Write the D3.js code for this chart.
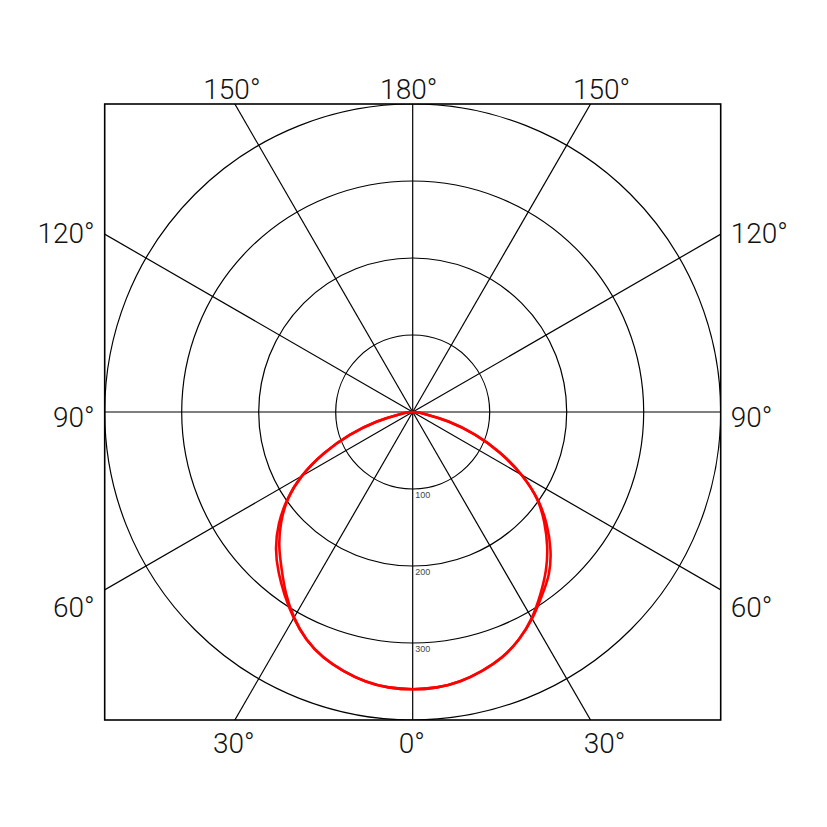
<!DOCTYPE html>
<html>
<head>
<meta charset="utf-8">
<script src="https://cdn.jsdelivr.net/npm/d3@7"></script>
<style>
  html, body { margin: 0; padding: 0; background: #fff; }
  svg { display: block; }
</style>
</head>
<body>
<svg id="chart" width="827" height="827"></svg>
<script>
// ---- data ----
const angles = [0, 5, 10, 15, 20, 25, 30, 35, 40, 45, 50, 55, 60, 65, 70, 75, 80, 85, 90];
const c180 = [360, 359, 355, 348, 339, 326, 309, 290, 271, 251, 227, 199, 166, 127, 87, 48, 18, 5, 0]; // left, outer
const c270 = [360, 359, 355, 348, 339, 326, 308, 287, 265, 245, 223, 198, 166, 127, 87, 48, 18, 5, 0]; // left, inner
const c0   = [360, 359, 355, 348, 339, 326, 310, 292, 275, 253, 227, 198, 163, 125, 86, 48, 18, 5, 0];  // right, outer
const c90  = [360, 359, 355, 348, 339, 326, 309, 289, 269, 247, 223, 197, 163, 125, 86, 48, 18, 5, 0];  // right, inner
const ringValues = [100, 200, 300, 400];
const ringLabels = ["100", "200", "300"];
const spokeAngles = [0, 30, 60, 90, 120, 150, 180, 210, 240, 270, 300, 330];
const topLabels = ["150°", "180°", "150°"];
const bottomLabels = ["30°", "0°", "30°"];
const sideLabels = ["120°", "90°", "60°"];
const sideAngles = [120, 90, 60];

// ---- layout ----
const cx = 412.7, cy = 412, R = 308;
const box = { x0: cx - R, x1: cx + R, y0: cy - R, y1: cy + R };
const r = d3.scaleLinear().domain([0, 400]).range([0, R]);
const toRad = d => d * Math.PI / 180;

const svg = d3.select("#chart");
svg.append("defs").append("clipPath").attr("id", "boxclip")
  .append("rect").attr("x", box.x0).attr("y", box.y0)
  .attr("width", box.x1 - box.x0).attr("height", box.y1 - box.y0);

const grid = svg.append("g").attr("clip-path", "url(#boxclip)");

// rings
grid.selectAll("circle.ring").data(ringValues).enter().append("circle")
  .attr("class", "ring")
  .attr("cx", cx).attr("cy", cy).attr("r", d => r(d))
  .attr("fill", "none").attr("stroke", "#000").attr("stroke-width", 1.2);

// spokes (angle measured from nadir)
const L = R * 2;
grid.selectAll("line.spoke").data(spokeAngles).enter().append("line")
  .attr("class", "spoke")
  .attr("x1", cx).attr("y1", cy)
  .attr("x2", d => cx + L * Math.sin(toRad(d)))
  .attr("y2", d => cy + L * Math.cos(toRad(d)))
  .attr("stroke", "#000").attr("stroke-width", 1.2);

// ring labels
svg.selectAll("text.rl").data(ringLabels).enter().append("text")
  .attr("class", "rl")
  .attr("x", cx + 2.5).attr("y", d => cy + r(+d) + 9)
  .attr("font-family", "Liberation Sans, Arial, sans-serif")
  .attr("font-size", 9).attr("fill", "#444")
  .text(d => d);

// curves: left side from 90° to 0° then right side 0° to 90°
function loop(left, right) {
  const pts = [];
  for (let i = angles.length - 1; i >= 0; i--) pts.push([Math.PI + toRad(angles[i]), r(left[i])]);
  for (let i = 1; i < angles.length; i++) pts.push([Math.PI - toRad(angles[i]), r(right[i])]);
  return pts;
}
const radial = d3.lineRadial().angle(d => d[0]).radius(d => d[1]).curve(d3.curveNatural);
const curves = svg.append("g").attr("transform", `translate(${cx},${cy})`);
[loop(c180, c0), loop(c270, c90)].forEach(pts => {
  curves.append("path").attr("d", radial(pts))
    .attr("fill", "none").attr("stroke", "#ff0000").attr("stroke-width", 2.6)
    .attr("stroke-linejoin", "round");
});

// frame
svg.append("rect").attr("x", box.x0).attr("y", box.y0)
  .attr("width", box.x1 - box.x0).attr("height", box.y1 - box.y0)
  .attr("fill", "none").attr("stroke", "#000").attr("stroke-width", 1.6);

// angle labels
const font = "Roboto, 'Open Sans', sans-serif";
const tanAt = d => Math.tan(toRad(d));
const topX = [cx - R * tanAt(30), cx, cx + R * tanAt(30)];
const topDx = [-3, -4, 11];
const botDx = [-1, -1, 14];
const sideDy = [9, 15, 27];
function lbl(x, y, t, anchor) {
  svg.append("text").attr("x", x).attr("y", y).attr("text-anchor", anchor)
    .attr("font-family", font).attr("font-weight", 300).attr("font-size", 28)
    .attr("fill", "#111").text(t);
}
topLabels.forEach((t, i) => lbl(topX[i] + topDx[i], box.y0 - 5, t, "middle"));
bottomLabels.forEach((t, i) => lbl(topX[i] + botDx[i], box.y1 + 33, t, "middle"));
sideLabels.forEach((t, i) => {
  const a = sideAngles[i];
  const y = (a === 90 ? cy : cy + R * Math.cos(toRad(a)) / Math.sin(toRad(a))) + sideDy[i];
  lbl(box.x0 - 10, y, t, "end");
  lbl(box.x1 + 10, y, t, "start");
});
</script>
</body>
</html>
